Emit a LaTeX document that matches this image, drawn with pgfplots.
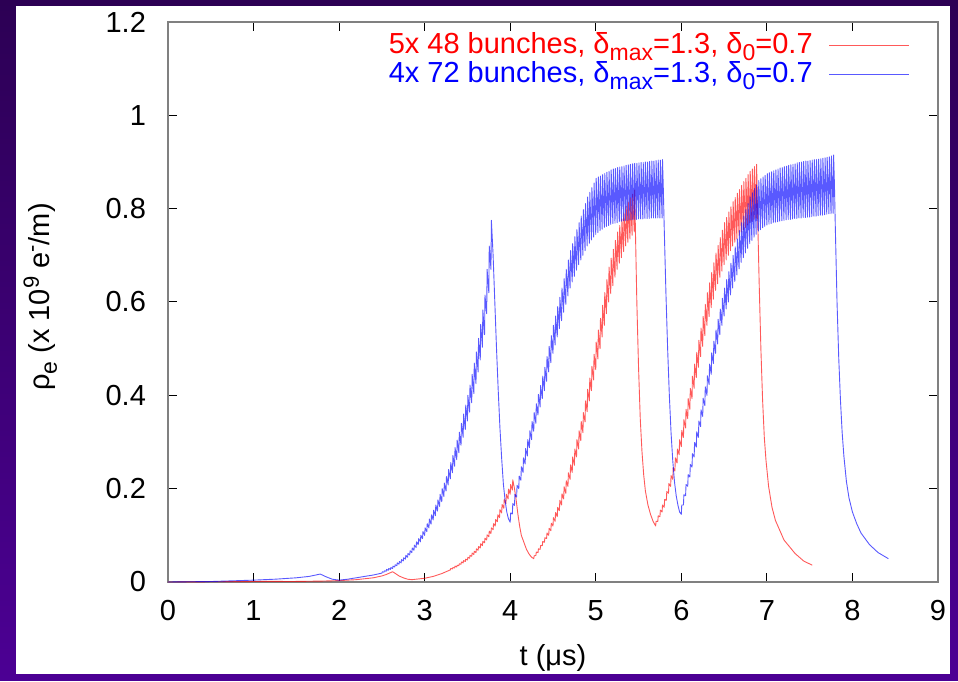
\documentclass[border=0pt]{standalone}
\usepackage{fontspec}
\setmainfont{Liberation Sans}
\usepackage{pgfplots}
\pgfplotsset{compat=1.18}
\newcommand{\lsub}[1]{\raisebox{-3.5pt}{\fontsize{11.5}{12}\selectfont #1}}
\newcommand{\lsup}[1]{\raisebox{5.5pt}{\fontsize{11}{12}\selectfont #1}}
\definecolor{bordertop}{RGB}{44,0,84}
\definecolor{borderbot}{RGB}{76,0,148}
\begin{document}
\fontsize{14.5}{16}\selectfont
\begin{tikzpicture}
\shade[top color=bordertop, bottom color=borderbot] (-84pt,-49pt) rectangle (395pt,291pt);
\fill[white] (-76pt,-46pt) rectangle (391pt,288pt);
\begin{axis}[
  at={(0pt,0pt)}, anchor=south west,
  scale only axis, width=385pt, height=280pt,
  xmin=0, xmax=9, ymin=0, ymax=1.2,
  xtick={0,1,2,3,4,5,6,7,8,9},
  ytick={0,0.2,0.4,0.6,0.8,1,1.2},
  yticklabels={0,0.2,0.4,0.6,0.8,1,1.2},
  tick align=inside, major tick length=4.5pt,
  axis line style={draw=gray, line width=1pt},
  every tick/.style={black, line width=0.5pt},
  /pgf/number format/assume math mode=true,
  xticklabel style={yshift=-4pt},
  yticklabel style={xshift=-6pt},
  xlabel={t (μs)},
  ylabel={ρ\lsub{e} (x 10\lsup{9} e\lsup{-}/m)},
  xlabel style={at={(axis description cs:0.5,-0.1357)}, anchor=center},
  ylabel style={at={(axis description cs:-0.166,0.509)}, anchor=center},
  legend cell align=right,
  legend plot pos=right,
  legend style={draw=none, fill=none, at={(axis description cs:1,1)}, anchor=north east, xshift=-14pt, yshift=-3pt, row sep=-2pt, inner sep=0pt, column sep=6pt},
  legend image code/.code={\draw[#1] (0pt,0pt) -- (40pt,0pt);},
]
\addplot[red, mark=none, line width=0.45pt, opacity=0.65, line join=round] coordinates {
(0,0)(0.5,0.0005)(1.0,0.001)(1.2,0.0015)(1.425,0.001)(1.8,0.002)(2.0,0.003)(2.2,0.005)(2.4,0.009)(2.5,0.013)(2.55,0.016)(2.6,0.020)(2.625,0.022)(2.66,0.018)(2.7,0.013)(2.75,0.009)(2.8,0.006)(2.85,0.005)(2.9,0.006)(3.0,0.008)(3.1,0.012)(3.2,0.018)(3.275,0.024)
(3.300,.026)(3.305,.029)(3.325,.028)(3.330,.031)(3.350,.030)(3.355,.034)(3.375,.032)(3.380,.036)(3.400,.035)(3.405,.039)(3.425,.038)(3.430,.043)(3.450,.041)(3.455,.046)(3.475,.044)(3.480,.049)(3.500,.047)(3.505,.053)(3.525,.051)(3.530,.057)(3.550,.055)(3.555,.062)(3.575,.059)(3.580,.066)(3.600,.063)(3.605,.071)(3.625,.068)(3.630,.076)(3.650,.073)(3.655,.082)(3.675,.078)(3.680,.087)(3.700,.084)(3.705,.094)(3.725,.090)(3.730,.101)(3.750,.097)(3.755,.109)(3.775,.104)(3.780,.116)(3.800,.112)(3.805,.125)(3.825,.120)(3.830,.134)(3.850,.129)(3.855,.144)(3.875,.138)(3.880,.155)(3.900,.148)(3.905,.166)(3.925,.158)(3.930,.177)(3.950,.168)(3.955,.188)(3.975,.178)(3.980,.199)(4.000,.188)(4.005,.209)(4.025,.197)(4.030,.219)
(4.05,0.20)(4.07,0.175)(4.09,0.145)(4.11,0.12)(4.13,0.10)(4.16,0.085)(4.19,0.07)(4.22,0.06)(4.25,0.053)
(4.275,.050)(4.280,.056)(4.300,.057)(4.305,.064)(4.325,.063)(4.330,.071)(4.350,.070)(4.355,.078)(4.375,.078)(4.380,.087)(4.400,.085)(4.405,.095)(4.425,.093)(4.430,.105)(4.450,.100)(4.455,.115)(4.475,.110)(4.480,.126)(4.500,.120)(4.505,.138)(4.525,.130)(4.530,.149)(4.550,.140)(4.555,.160)(4.575,.153)(4.580,.175)(4.600,.165)(4.605,.189)(4.625,.178)(4.630,.204)(4.650,.190)(4.655,.217)(4.675,.205)(4.680,.234)(4.700,.220)(4.705,.251)(4.725,.235)(4.730,.268)(4.750,.250)(4.755,.285)(4.775,.268)(4.780,.305)(4.800,.285)(4.805,.324)(4.825,.303)(4.830,.344)(4.850,.320)(4.855,.363)(4.875,.343)(4.880,.388)(4.900,.365)(4.905,.413)(4.925,.388)(4.930,.437)(4.950,.410)(4.955,.462)(4.975,.433)(4.980,.488)(5.000,.455)(5.005,.514)(5.025,.478)(5.030,.540)(5.050,.500)(5.055,.565)(5.075,.525)(5.080,.593)(5.100,.550)(5.105,.620)(5.125,.575)(5.130,.648)(5.150,.600)(5.155,.675)(5.175,.618)(5.180,.694)(5.200,.635)(5.205,.713)(5.225,.653)(5.230,.732)(5.250,.670)(5.255,.750)(5.275,.683)(5.280,.764)(5.300,.695)(5.305,.778)(5.325,.708)(5.330,.791)(5.350,.720)(5.355,.805)(5.375,.728)(5.380,.814)(5.400,.735)(5.405,.823)(5.425,.743)(5.430,.831)(5.450,.750)(5.455,.840)
(5.465,0.74)(5.48,0.60)(5.50,0.46)(5.52,0.35)(5.54,0.28)(5.56,0.23)(5.58,0.195)(5.61,0.165)(5.64,0.145)(5.67,0.13)
(5.700,.120)(5.705,.130)(5.725,.130)(5.730,.142)(5.750,.140)(5.755,.154)(5.775,.150)(5.780,.165)(5.800,.160)(5.805,.177)(5.825,.175)(5.830,.194)(5.850,.190)(5.855,.211)(5.875,.205)(5.880,.228)(5.900,.220)(5.905,.245)(5.925,.238)(5.930,.266)(5.950,.255)(5.955,.285)(5.975,.273)(5.980,.305)(6.000,.290)(6.005,.325)(6.025,.310)(6.030,.348)(6.050,.330)(6.055,.370)(6.075,.350)(6.080,.393)(6.100,.370)(6.105,.415)(6.125,.393)(6.130,.441)(6.150,.415)(6.155,.467)(6.175,.438)(6.180,.492)(6.200,.460)(6.205,.518)(6.225,.483)(6.230,.544)(6.250,.505)(6.255,.569)(6.275,.528)(6.280,.595)(6.300,.550)(6.305,.620)(6.325,.569)(6.330,.641)(6.350,.588)(6.355,.663)(6.375,.606)(6.380,.684)(6.400,.625)(6.405,.705)(6.425,.639)(6.430,.721)(6.450,.653)(6.455,.738)(6.475,.666)(6.480,.754)(6.500,.680)(6.505,.770)(6.525,.690)(6.530,.781)(6.550,.700)(6.555,.793)(6.575,.710)(6.580,.804)(6.600,.720)(6.605,.815)(6.625,.728)(6.630,.824)(6.650,.735)(6.655,.833)(6.675,.743)(6.680,.841)(6.700,.750)(6.705,.850)(6.725,.755)(6.730,.858)(6.750,.760)(6.755,.865)(6.775,.765)(6.780,.873)(6.800,.770)(6.805,.880)(6.825,.773)(6.830,.885)(6.850,.777)(6.855,.890)(6.875,.780)(6.880,.895)
(6.89,0.80)(6.91,0.64)(6.93,0.50)(6.95,0.39)(6.97,0.31)(6.99,0.26)(7.02,0.205)(7.06,0.16)(7.1,0.132)(7.2,0.09)(7.33,0.061)(7.43,0.045)(7.53,0.036)
};
\addlegendentry{\textcolor{red}{5x 48 bunches, δ\lsub{max}=1.3, δ\lsub{0}=0.7}}
\addplot[blue, mark=none, line width=0.45pt, opacity=0.65, line join=round] coordinates {
(0,0)(0.5,0.001)(1.0,0.004)(1.25,0.006)(1.5,0.009)(1.65,0.012)(1.78,0.017)(1.85,0.011)(1.92,0.006)(2.0,0.004)(2.1,0.006)(2.2,0.009)(2.3,0.012)(2.4,0.015)(2.475,0.018)
(2.500,.019)(2.505,.022)(2.525,.021)(2.530,.024)(2.550,.023)(2.555,.027)(2.575,.025)(2.580,.029)(2.600,.027)(2.605,.031)(2.625,.029)(2.630,.034)(2.650,.032)(2.655,.037)(2.675,.035)(2.680,.041)(2.700,.038)(2.705,.044)(2.725,.041)(2.730,.048)(2.750,.045)(2.755,.052)(2.775,.049)(2.780,.057)(2.800,.053)(2.805,.061)(2.825,.058)(2.830,.067)(2.850,.063)(2.855,.073)(2.875,.068)(2.880,.079)(2.900,.074)(2.905,.086)(2.925,.080)(2.930,.093)(2.950,.086)(2.955,.100)(2.975,.093)(2.980,.108)(3.000,.100)(3.005,.116)(3.025,.108)(3.030,.125)(3.050,.116)(3.055,.135)(3.075,.124)(3.080,.144)(3.100,.133)(3.105,.154)(3.125,.142)(3.130,.165)(3.150,.152)(3.155,.176)(3.175,.162)(3.180,.188)(3.200,.172)(3.205,.200)(3.225,.183)(3.230,.212)(3.250,.195)(3.255,.226)(3.275,.208)(3.280,.241)(3.300,.221)(3.305,.256)(3.325,.234)(3.330,.271)(3.350,.248)(3.355,.288)(3.375,.262)(3.380,.304)(3.400,.277)(3.405,.321)(3.425,.293)(3.430,.340)(3.450,.310)(3.455,.360)(3.475,.327)(3.480,.379)(3.500,.345)(3.505,.400)(3.525,.364)(3.530,.422)(3.550,.384)(3.555,.445)(3.575,.404)(3.580,.469)(3.600,.425)(3.605,.493)(3.625,.450)(3.630,.522)(3.650,.476)(3.655,.552)(3.675,.503)(3.680,.583)(3.700,.530)(3.705,.615)(3.725,.575)(3.730,.670)(3.750,.620)(3.755,.720)(3.775,.670)(3.780,.775)
(3.80,0.70)(3.82,0.60)(3.84,0.50)(3.86,0.41)(3.88,0.33)(3.90,0.265)(3.92,0.21)(3.94,0.175)(3.96,0.15)(3.98,0.135)
(4.000,.128)(4.005,.148)(4.025,.146)(4.030,.168)(4.050,.164)(4.055,.188)(4.075,.182)(4.080,.207)(4.100,.200)(4.105,.227)(4.125,.218)(4.130,.247)(4.150,.235)(4.155,.266)(4.175,.253)(4.180,.286)(4.200,.270)(4.205,.305)(4.225,.288)(4.230,.324)(4.250,.305)(4.255,.344)(4.275,.323)(4.280,.363)(4.300,.340)(4.305,.382)(4.325,.358)(4.330,.402)(4.350,.375)(4.355,.421)(4.375,.393)(4.380,.441)(4.400,.410)(4.405,.460)(4.425,.430)(4.430,.483)(4.450,.450)(4.455,.505)(4.475,.470)(4.480,.528)(4.500,.490)(4.505,.550)(4.525,.508)(4.530,.570)(4.550,.525)(4.555,.590)(4.575,.543)(4.580,.610)(4.600,.560)(4.605,.630)(4.625,.578)(4.630,.650)(4.650,.595)(4.655,.670)(4.675,.613)(4.680,.690)(4.700,.630)(4.705,.710)(4.725,.643)(4.730,.725)(4.750,.655)(4.755,.740)(4.775,.668)(4.780,.755)(4.800,.680)(4.805,.770)(4.825,.690)(4.830,.784)(4.850,.700)(4.855,.798)(4.875,.710)(4.880,.811)(4.900,.720)(4.905,.825)(4.925,.726)(4.930,.835)(4.950,.733)(4.955,.845)(4.975,.739)(4.980,.855)(5.000,.745)(5.005,.865)(5.025,.749)(5.030,.868)(5.050,.753)(5.055,.870)(5.075,.756)(5.080,.873)(5.100,.760)(5.105,.875)(5.125,.762)(5.130,.878)(5.150,.764)(5.155,.880)(5.175,.766)(5.180,.883)(5.200,.768)(5.205,.885)(5.225,.769)(5.230,.886)(5.250,.770)(5.255,.888)(5.275,.772)(5.280,.889)(5.300,.773)(5.305,.890)(5.325,.774)(5.330,.891)(5.350,.774)(5.355,.893)(5.375,.775)(5.380,.894)(5.400,.776)(5.405,.895)(5.425,.776)(5.430,.896)(5.450,.777)(5.455,.897)(5.475,.777)(5.480,.897)(5.500,.778)(5.505,.898)(5.525,.778)(5.530,.899)(5.550,.778)(5.555,.899)(5.575,.779)(5.580,.900)(5.600,.779)(5.605,.900)(5.625,.779)(5.630,.901)(5.650,.780)(5.655,.902)(5.675,.780)(5.680,.902)(5.700,.780)(5.705,.903)(5.725,.780)(5.730,.904)(5.750,.780)(5.755,.904)(5.775,.780)(5.780,.905)
(5.79,0.84)(5.80,0.76)(5.82,0.62)(5.84,0.50)(5.86,0.40)(5.88,0.32)(5.90,0.26)(5.92,0.215)(5.94,0.185)(5.96,0.165)(5.98,0.15)
(6.000,.145)(6.005,.165)(6.025,.165)(6.030,.187)(6.050,.185)(6.055,.209)(6.075,.205)(6.080,.230)(6.100,.225)(6.105,.252)(6.125,.246)(6.130,.275)(6.150,.268)(6.155,.299)(6.175,.289)(6.180,.322)(6.200,.310)(6.205,.345)(6.225,.333)(6.230,.369)(6.250,.355)(6.255,.394)(6.275,.378)(6.280,.418)(6.300,.400)(6.305,.442)(6.325,.423)(6.330,.467)(6.350,.445)(6.355,.491)(6.375,.468)(6.380,.516)(6.400,.490)(6.405,.540)(6.425,.510)(6.430,.563)(6.450,.530)(6.455,.585)(6.475,.550)(6.480,.608)(6.500,.570)(6.505,.630)(6.525,.585)(6.530,.648)(6.550,.600)(6.555,.665)(6.575,.615)(6.580,.683)(6.600,.630)(6.605,.700)(6.625,.644)(6.630,.718)(6.650,.658)(6.655,.735)(6.675,.671)(6.680,.753)(6.700,.685)(6.705,.770)(6.725,.695)(6.730,.784)(6.750,.705)(6.755,.798)(6.775,.715)(6.780,.811)(6.800,.725)(6.805,.825)(6.825,.732)(6.830,.834)(6.850,.739)(6.855,.843)(6.875,.745)(6.880,.851)(6.900,.752)(6.905,.860)(6.925,.755)(6.930,.864)(6.950,.759)(6.955,.868)(6.975,.762)(6.980,.871)(7.000,.765)(7.005,.875)(7.025,.767)(7.030,.877)(7.050,.768)(7.055,.879)(7.075,.770)(7.080,.881)(7.100,.771)(7.105,.883)(7.125,.772)(7.130,.885)(7.150,.773)(7.155,.887)(7.175,.774)(7.180,.888)(7.200,.775)(7.205,.890)(7.225,.776)(7.230,.891)(7.250,.777)(7.255,.893)(7.275,.777)(7.280,.894)(7.300,.778)(7.305,.895)(7.325,.779)(7.330,.896)(7.350,.779)(7.355,.898)(7.375,.780)(7.380,.899)(7.400,.780)(7.405,.900)(7.425,.781)(7.430,.901)(7.450,.781)(7.455,.902)(7.475,.782)(7.480,.902)(7.500,.782)(7.505,.903)(7.525,.783)(7.530,.904)(7.550,.784)(7.555,.905)(7.575,.784)(7.580,.905)(7.600,.785)(7.605,.906)(7.625,.786)(7.630,.907)(7.650,.786)(7.655,.908)(7.675,.787)(7.680,.909)(7.700,.788)(7.705,.910)(7.725,.789)(7.730,.911)(7.750,.789)(7.755,.913)(7.775,.790)(7.780,.915)
(7.79,0.85)(7.80,0.76)(7.82,0.60)(7.84,0.48)(7.86,0.39)(7.88,0.32)(7.90,0.27)(7.93,0.215)(7.96,0.18)(8.0,0.15)(8.05,0.125)(8.1,0.105)(8.2,0.08)(8.3,0.063)(8.42,0.05)
};
\addlegendentry{\textcolor{blue}{4x 72 bunches, δ\lsub{max}=1.3, δ\lsub{0}=0.7}}
\end{axis}
\end{tikzpicture}
\end{document}
